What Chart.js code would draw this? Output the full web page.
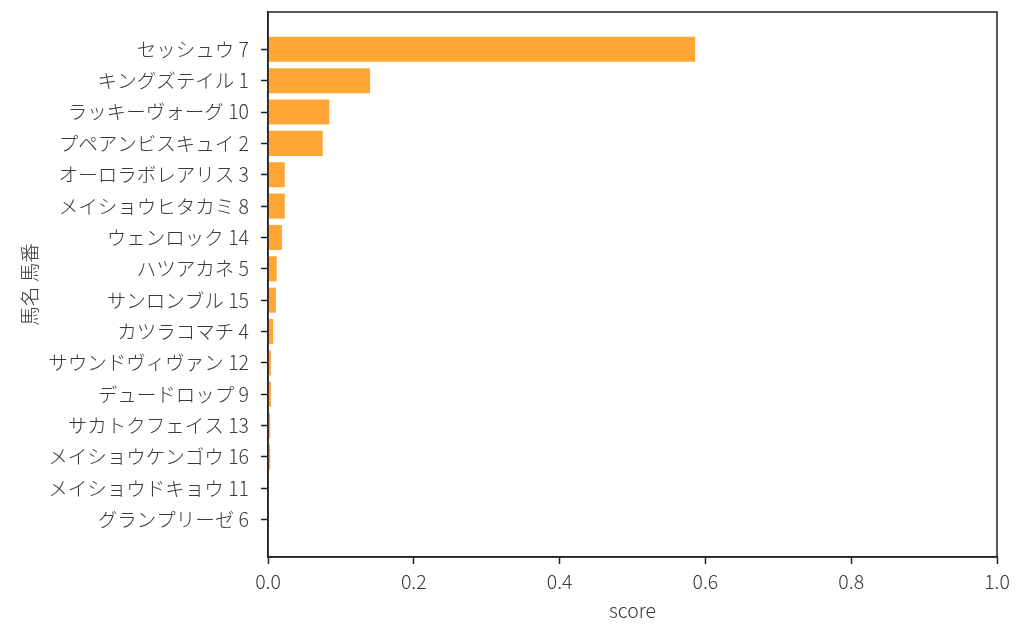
<!DOCTYPE html>
<html>
<head>
<meta charset="utf-8">
<script src="https://cdn.jsdelivr.net/npm/chart.js@4.4.1/dist/chart.umd.min.js"></script>
<style>
  html, body { margin: 0; padding: 0; background: #fff; }
  #wrap { width: 1024px; height: 638px; }
</style>
</head>
<body>
<div id="wrap"><canvas id="chart" width="1024" height="638"></canvas></div>
<script>
// horse names + numbers, top to bottom
const horses = [
    'セッシュウ 7', 'キングズテイル 1', 'ラッキーヴォーグ 10', 'プペアンビスキュイ 2',
    'オーロラボレアリス 3', 'メイショウヒタカミ 8', 'ウェンロック 14', 'ハツアカネ 5',
    'サンロンブル 15', 'カツラコマチ 4', 'サウンドヴィヴァン 12', 'デュードロップ 9',
    'サカトクフェイス 13', 'メイショウケンゴウ 16', 'メイショウドキョウ 11', 'グランプリーゼ 6'
];
const scores = [
    0.586, 0.140, 0.084, 0.075,
    0.023, 0.023, 0.019, 0.012,
    0.011, 0.007, 0.004, 0.004,
    0.003, 0.003, 0.0004, 0.0
];
const xTicks = [0, 0.2, 0.4, 0.6, 0.8, 1.0];

const font = { family: "'Noto Sans CJK JP', 'Noto Sans', sans-serif", size: 19.5, weight: 300 };
const textColor = '#3a3a3a';
const axisColor = '#222';

// matplotlib-like frame around the plot area
const frame = {
    id: 'frame',
    afterDatasetsDraw(chart) {
        const { ctx, chartArea: a } = chart;
        ctx.save();
        ctx.strokeStyle = axisColor;
        ctx.lineWidth = 1.5;
        ctx.strokeRect(a.left, a.top, a.right - a.left, a.bottom - a.top);
        ctx.restore();
    }
};

new Chart(document.getElementById('chart'), {
    type: 'bar',
    data: {
        datasets: [{
            data: scores.map((v, i) => ({ x: v, y: i })),
            backgroundColor: '#ffa533',
            barPercentage: 0.8,
            categoryPercentage: 1.0
        }]
    },
    options: {
        indexAxis: 'y',
        responsive: false,
        animation: false,
        layout: { padding: { top: 12, right: 27, left: 18, bottom: 16 } },
        plugins: { legend: { display: false }, tooltip: { enabled: false } },
        scales: {
            y: {
                type: 'linear',
                reverse: true,
                offset: false,
                min: -1.19,
                max: horses.length - 1 + 1.19,
                afterBuildTicks: s => { s.ticks = horses.map((_, i) => ({ value: i })); },
                afterFit: s => { s.width = 250; s.paddingTop = 0; s.paddingBottom = 0; },
                ticks: {
                    autoSkip: false,
                    callback: v => horses[v],
                    color: textColor,
                    font,
                    padding: 12
                },
                grid: { offset: false, drawOnChartArea: false, drawTicks: true, tickLength: 7, color: axisColor, tickWidth: 1.5 },
                border: { display: true, color: axisColor, width: 1.5 },
                title: { display: true, text: '馬名 馬番', color: textColor, font, padding: 0 }
            },
            x: {
                type: 'linear',
                min: 0,
                max: 1,
                afterBuildTicks: s => { s.ticks = xTicks.map(v => ({ value: v })); },
                afterFit: s => { s.height = 65; s.paddingLeft = 0; s.paddingRight = 0; },
                ticks: {
                    callback: v => v.toFixed(1),
                    color: textColor,
                    font,
                    padding: 6,
                    maxRotation: 0
                },
                grid: { drawOnChartArea: false, drawTicks: true, tickLength: 7, color: axisColor, tickWidth: 1.5 },
                border: { display: true, color: axisColor, width: 1.5 },
                title: { display: true, text: 'score', color: textColor, font, padding: 0 }
            }
        }
    },
    plugins: [frame]
});
</script>
</body>
</html>
